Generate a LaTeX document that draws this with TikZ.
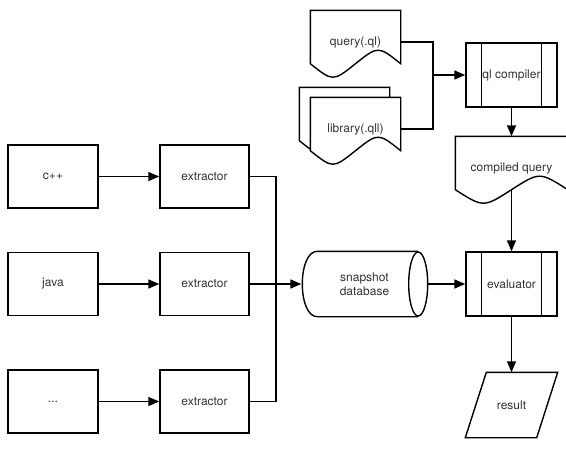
\documentclass[tikz,border=0pt]{standalone}
\usepackage{fontspec}
\setmainfont{TeX Gyre Heros}
\usetikzlibrary{arrows.meta,calc,backgrounds}
\definecolor{txt}{HTML}{333333}
\tikzset{
  lw/.style={line width=1.4pt},
  lbl/.style={font=\fontsize{12}{14}\selectfont, text=txt, align=center, inner sep=0pt},
  box/.style={lbl, lw, draw, fill=white, minimum width=90pt, minimum height=63pt},
  procbox/.style={lbl, lw, draw, fill=white, minimum width=91pt, minimum height=64pt},
  shapenode/.style={lbl, minimum width=89pt, minimum height=62pt},
  arr/.style={lw, -{Triangle[length=11pt,width=9pt]}},
}
\newcommand{\docshape}[1]{%
  \draw[lw,fill=white] (#1.north west) -- (#1.north east) -- ($(#1.south east)+(0,-10)$)
    .. controls ($(#1.south east)!0.25!(#1.south west)+(0,-28)$) .. ($(#1.south)+(0,-10)$)
    .. controls ($(#1.south east)!0.75!(#1.south west)+(0,8)$) .. ($(#1.south west)+(0,-10)$) -- cycle;}
\newcommand{\procbars}[1]{%
  \draw[lw] ($(#1.north west)+(16,0)$) -- ($(#1.south west)+(16,0)$);
  \draw[lw] ($(#1.north east)+(-16,0)$) -- ($(#1.south east)+(-16,0)$);}
\begin{document}
\begin{tikzpicture}[x=1pt,y=-1pt,lw]
\useasboundingbox (0,0) rectangle (566,455);
% sources
\node[box] (cpp) at (53,176.5) {c++};
\node[box] (java) at (53,284) {java};
\node[box] (etc) at (53,401.5) {...};
\node[box,minimum width=89pt] (e1) at (204.5,176.5) {extractor};
\node[box,minimum width=89pt] (e2) at (204.5,284) {extractor};
\node[box,minimum width=89pt] (e3) at (204.5,401.5) {extractor};
% database
\node[lbl,minimum width=125pt,minimum height=64pt] (db) at (364.5,284) {snapshot\\database};
% query docs
\node[shapenode] (q) at (355.5,42) {query(.ql)};
\node[shapenode] (lb) at (344.5,119) {};
\node[shapenode] (lf) at (355.5,129) {library(.qll)};
\node[shapenode,minimum width=111pt] (cq) at (511.5,168) {compiled query};
% processes
\node[procbox] (qlc) at (511.5,75) {ql compiler};
\node[procbox] (ev) at (511.5,284) {evaluator};
\procbars{qlc}
\procbars{ev}
\node[lbl,minimum width=91pt,minimum height=64pt] (res) at (511.5,405) {result};
\begin{scope}[on background layer,lw]
  \docshape{q}
  \docshape{lb}
  \docshape{lf}
  \docshape{cq}
  \draw[lw,fill=white] ($(db.north east)+(-9.5,0)$) -- ($(db.north west)+(16,0)$)
     .. controls ($(db.north west)+(-4,0)$) and ($(db.south west)+(-4,0)$) .. ($(db.south west)+(16,0)$)
     -- ($(db.south east)+(-9.5,0)$);
  \draw[lw,fill=white] ($(db.east)+(-9.5,0)$) ellipse [x radius=9.5pt, y radius=32pt];
  \draw[lw,fill=white] ($(res.north west)+(21,0)$) -- (res.north east) -- ($(res.south east)+(-21,0)$) -- (res.south west) -- cycle;
\end{scope}
% connectors
\draw[arr] (cpp) -- (e1);
\draw[arr] (java) -- (e2);
\draw[arr] (etc) -- (e3);
\coordinate (j) at (276,284);
\draw[lw] (e1.east) -| (j);
\draw[lw] (e3.east) -| (j);
\draw[arr] (e2.east) -- (db.west);
\draw[arr] (db.east) -- (ev.west);
\coordinate (m) at (433,75);
\draw[lw] (q.east) -| (m);
\draw[lw] (lf.east) -| (m);
\draw[arr] (m) -- (qlc.west);
\draw[arr] (qlc.south) -- (cq.north);
\coordinate (cqb) at ($(cq.south)+(0,-10)$);
\draw[arr] (cqb) -- (ev.north);
\draw[arr] (ev.south) -- (res.north);
\end{tikzpicture}
\end{document}
